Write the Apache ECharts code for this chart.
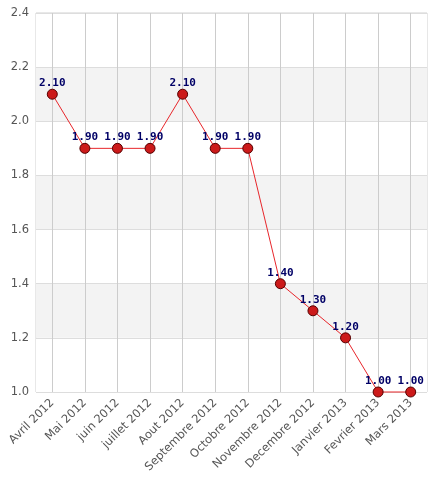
<!DOCTYPE html>
<html>
<head>
<meta charset="utf-8">
<script src="https://cdn.jsdelivr.net/npm/echarts@6/dist/echarts.min.js"></script>
<style>
  html, body { margin: 0; padding: 0; background: #fff; }
  #chart { width: 446px; height: 477px; }
</style>
</head>
<body>
<div id="chart"></div>
<script>
// mois et valeurs
var months = ['Avril 2012', 'Mai 2012', 'juin 2012', 'juillet 2012', 'Aout 2012',
    'Septembre 2012', 'Octobre 2012', 'Novembre 2012', 'Decembre 2012',
    'Janvier 2013', 'Fevrier 2013', 'Mars 2013'];
var values = [2.10, 1.90, 1.90, 1.90, 2.10, 1.90, 1.90, 1.40, 1.30, 1.20, 1.00, 1.00];

var chart = echarts.init(document.getElementById('chart'));

var option = {
    animation: false,
    grid: {
        left: 36, right: 19, top: 13, bottom: 85,
        show: true,
        borderColor: '#d0d0d0',
        borderWidth: 1,
        backgroundColor: 'transparent'
    },
    xAxis: {
        type: 'category',
        data: months,
        boundaryGap: true,
        axisLine: { show: false },
        axisTick: { show: false },
        splitLine: { show: true, alignWithLabel: true, lineStyle: { color: '#cccccc', width: 1 } },
        axisLabel: {
            rotate: 45,
            interval: 0,
            color: '#555555',
            fontFamily: 'DejaVu Sans',
            fontSize: 11.5,
            margin: 9
        }
    },
    yAxis: {
        type: 'value',
        min: 1.0,
        max: 2.4,
        interval: 0.2,
        axisLine: { show: false },
        axisTick: { show: false },
        splitLine: { show: true, lineStyle: { color: '#dddddd', width: 1 } },
        splitArea: { show: true, areaStyle: { color: ['#ffffff', '#f3f3f3'] } },
        axisLabel: {
            color: '#555555',
            fontFamily: 'DejaVu Sans',
            fontSize: 11.5,
            margin: 7,
            formatter: function (v) { return v.toFixed(1); }
        }
    },
    series: [{
        type: 'line',
        data: values,
        symbol: 'circle',
        symbolSize: 10,
        clip: false,
        lineStyle: { color: '#e8262b', width: 1 },
        itemStyle: { color: '#cc1a1a', borderColor: '#550000', borderWidth: 1 },
        label: {
            show: true,
            position: 'top',
            distance: 0,
            color: '#000066',
            fontFamily: 'DejaVu Sans Mono',
            fontWeight: 'bold',
            fontSize: 11,
            formatter: function (p) { return p.value.toFixed(2); }
        }
    }]
};

chart.setOption(option);
</script>
</body>
</html>
